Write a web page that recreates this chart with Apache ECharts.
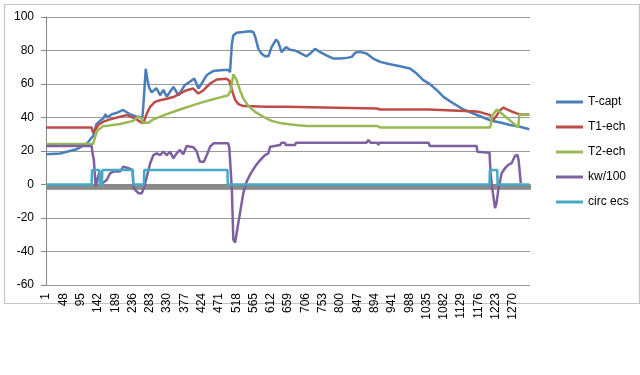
<!DOCTYPE html>
<html>
<head>
<meta charset="utf-8">
<script src="https://cdn.jsdelivr.net/npm/echarts@6/dist/echarts.min.js"></script>
<style>
html,body{margin:0;padding:0;background:#fff;}
#chart{width:640px;height:375px;}
</style>
</head>
<body>
<div id="chart"></div>
<script>
// x values are 0-based sample offsets (axis label = offset + 1)
var seriesNames = ['T-capt', 'T1-ech', 'T2-ech', 'kw/100', 'circ ecs'];
var xTickInterval = 47;
var sampleCount = 1316;
var yTicks = [-60, -40, -20, 0, 20, 40, 60, 80, 100];

var tCapt = [[0,18],[38,18.5],[83,21],[111,24.5],[128,29],[137,36],[147,38],[156,39.5],[162,42],[166,40],[180,42],[195,43],[210,44.5],[220,43],[228,42],[246,40.5],[262,40],[266,52],[271,69],[276,62],[280,58],[287,55],[300,57.5],[310,53.3],[319,56.5],[328,52.4],[346,58.3],[360,53.3],[377,59.3],[391,61.3],[403,63.3],[414,57.3],[423,60.3],[437,65.4],[455,67.8],[473,68.2],[495,68.5],[500,67],[505,84],[509,89],[518,90.6],[536,91],[554,91.5],[559,92],[563,91],[568,88.5],[577,81],[586,78],[595,76.5],[604,76.5],[613,82],[625,86.5],[631,85],[640,79],[652,82],[663,80.4],[677,80],[686,79],[708,76.5],[717,78],[731,81],[745,79],[763,77],[781,75.2],[799,75.2],[817,75.6],[831,76.2],[840,78.7],[853,79.2],[871,78.2],[889,75.2],[908,73.2],[935,71.8],[962,70.6],[989,69.2],[1007,66.2],[1025,62.3],[1043,59.9],[1062,56.3],[1080,52.3],[1107,48.4],[1134,44.8],[1161,42.4],[1188,40],[1211,38],[1234,37],[1261,35.5],[1288,34.5],[1313,33]];

var t1Ech = [[0,34],[124,34],[128,31],[135,33],[142,35.5],[156,37.5],[174,38.9],[201,40.4],[219,41.4],[232,40.4],[246,38.9],[255,37.5],[264,36.5],[274,42.4],[283,46.4],[296,49.3],[310,50.3],[328,51.2],[346,52.2],[364,54.3],[382,56.3],[400,57.3],[414,54.3],[428,56.3],[446,60.3],[464,62.7],[491,63.2],[498,62],[505,56.3],[514,50.4],[523,48],[536,46.8],[598,46.4],[601,45.4],[604,46.4],[650,46.4],[652,45.4],[899,45.4],[908,44.8],[1040,44.8],[1043,44],[1170,43.6],[1179,43.2],[1207,41.4],[1215,38.5],[1225,41.4],[1234,44.4],[1243,46],[1252,44.8],[1265,43.6],[1279,42.5],[1283,41.4],[1288,41.8],[1313,41.8]];

var t2Ech = [[0,24.2],[128,24.2],[133,28],[138,31.5],[147,33.5],[156,35],[165,35],[201,36.1],[237,38],[251,40.8],[258,39.6],[264,36.8],[278,36.8],[292,38.9],[328,42],[364,44.8],[400,47.4],[437,49.9],[473,52],[495,53.3],[502,56.3],[509,65.8],[512,66.6],[518,62.3],[527,56.3],[536,51.4],[550,46.8],[568,43.4],[591,40.4],[613,38],[640,36.5],[677,35.5],[708,34.9],[900,34.9],[908,34.1],[1207,34.1],[1212,41],[1225,44.8],[1283,34.1],[1286,41.8],[1313,41.8]];

var kw100 = [[0,23],[124,23],[127,18],[130,14.6],[135,-1.2],[140,-2.2],[145,7.7],[148,0],[152,-1],[165,2.7],[174,6.7],[183,7.7],[201,7.7],[210,10.7],[224,9.7],[228,8.7],[235,8.7],[238,-2.2],[251,-5.2],[260,-5.2],[266,-2.2],[274,4.7],[283,12.7],[292,17.6],[301,18.6],[310,17.6],[319,19.6],[328,17.6],[337,19.6],[346,15.7],[355,18.6],[364,20.6],[373,18],[382,23],[400,22.3],[409,20],[418,13.6],[429,13.6],[437,17.6],[446,22.6],[455,24.6],[495,24.6],[498,22],[505,-3.2],[509,-33],[514,-34.6],[518,-29],[527,-17.1],[536,-5.2],[545,1.7],[554,5.7],[568,10.7],[582,14.6],[595,17.6],[604,18.6],[609,22.6],[636,23.6],[640,25],[649,25],[651,23.6],[677,23.6],[679,25],[871,25],[876,26.5],[882,25],[900,25],[903,23.6],[906,25],[1039,25],[1043,23],[1170,23],[1172,19.6],[1205,19],[1208,6.7],[1213,-3.2],[1220,-14.1],[1224,-11],[1229,-3.2],[1238,6.7],[1247,9.7],[1256,11.7],[1265,12.7],[1274,17],[1281,17.6],[1284,14.6],[1290,0.8]];

var circEcs = [[0,0],[124,0],[125,8.6],[145,8.6],[146,0],[152,0],[153,8.6],[236,8.6],[237,0],[266,0],[267,8.6],[493,8.6],[494,0],[1205,0],[1206,8.6],[1226,8.6],[1227,0],[1313,0]];

var colors = ['#4A7EBB', '#BE4B48', '#98B954', '#7D60A0', '#46AAC5'];
var dataList = [tCapt, t1Ech, t2Ech, kw100, circEcs];

var chart = echarts.init(document.getElementById('chart'), null, {renderer: 'canvas'});
var FONT = 'Liberation Sans, Arial, sans-serif';

var series = seriesNames.map(function (n, k) {
  return {
    name: n,
    type: 'line',
    data: dataList[k],
    symbol: 'none',
    showSymbol: false,
    lineStyle: {width: 2.5, color: colors[k]},
    itemStyle: {color: colors[k]},
    animation: false
  };
});

chart.setOption({
  animation: false,
  backgroundColor: '#fff',
  color: colors,
  graphic: [{
    type: 'rect',
    left: 2, top: 2,
    shape: {width: 635, height: 299},
    style: {fill: 'none', stroke: '#c4c4c4', lineWidth: 1.2},
    silent: true
  }],
  grid: {left: 46, right: 110, top: 17, bottom: 90, containLabel: false},
  legend: {
    orient: 'vertical',
    left: 551,
    top: 90,
    icon: 'rect',
    itemWidth: 27,
    itemHeight: 3,
    itemGap: 11,
    data: seriesNames,
    textStyle: {fontFamily: FONT, fontSize: 12, color: '#000', lineHeight: 14}
  },
  xAxis: {
    type: 'value',
    min: 0,
    max: sampleCount - 1,
    interval: xTickInterval,
    axisLine: {onZero: true, lineStyle: {color: '#8a8a8a', width: 1}},
    axisTick: {show: true, length: 5, lineStyle: {color: '#8a8a8a'}},
    minorTick: {show: true, splitNumber: xTickInterval, length: 5, lineStyle: {color: '#8a8a8a', width: 1}},
    splitLine: {show: false},
    minorSplitLine: {show: false},
    axisLabel: {
      rotate: 90,
      margin: 8,
      showMaxLabel: false,
      fontFamily: FONT,
      fontSize: 12,
      color: '#000',
      formatter: function (v) { return String(v + 1); }
    }
  },
  yAxis: {
    type: 'value',
    min: yTicks[0],
    max: yTicks[yTicks.length - 1],
    interval: 20,
    axisLine: {show: true, lineStyle: {color: '#868686'}},
    axisTick: {show: true, length: 5, lineStyle: {color: '#868686'}},
    splitLine: {show: true, lineStyle: {color: '#9a9a9a', width: 1}},
    axisLabel: {fontFamily: FONT, fontSize: 12, color: '#000', margin: 12}
  },
  series: series
});
</script>
</body>
</html>
